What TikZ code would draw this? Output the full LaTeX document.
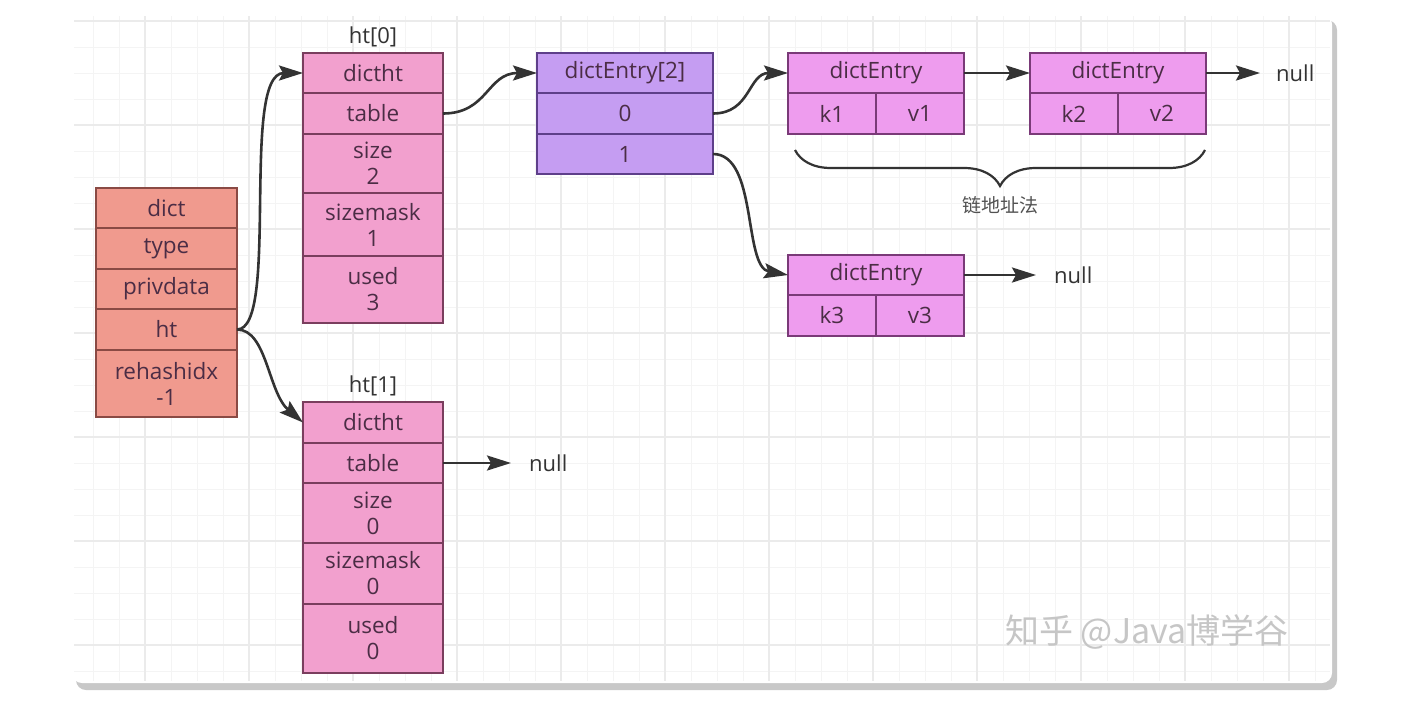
\documentclass[tikz,border=0pt]{standalone}
\usepackage{fontspec}
\setmainfont{Open Sans}
\newfontfamily\cjkfont{Noto Sans CJK SC}
\usetikzlibrary{arrows.meta,positioning,decorations.pathreplacing}
\definecolor{ink}{HTML}{333333}
\definecolor{celltext}{HTML}{4B2D45}
\definecolor{dictfill}{HTML}{F09A8E}
\definecolor{dictline}{HTML}{8A4A44}
\definecolor{htfill}{HTML}{F2A0CE}
\definecolor{htline}{HTML}{7A3E5E}
\definecolor{bucketfill}{HTML}{C59DF2}
\definecolor{bucketline}{HTML}{5E3F8A}
\definecolor{entryfill}{HTML}{EE9CEE}
\definecolor{entryline}{HTML}{7A3A78}
\definecolor{gridminor}{HTML}{F4F4F4}
\definecolor{gridmajor}{HTML}{EBEBEB}
\definecolor{shadowgray}{HTML}{C8C8C8}
\tikzset{
  cell/.style={draw, line width=1.6pt, inner sep=0pt, outer sep=0pt, align=center, text=celltext, font=\fontsize{22.5}{26}\selectfont},
  dictcell/.style={cell, fill=dictfill, draw=dictline, minimum width=141pt},
  htcell/.style={cell, fill=htfill, draw=htline, minimum width=140pt},
  bucketcell/.style={cell, fill=bucketfill, draw=bucketline, minimum width=176pt},
  entrycell/.style={cell, fill=entryfill, draw=entryline, minimum width=176pt},
  halfcell/.style={entrycell, minimum width=88pt, minimum height=41pt},
  caption/.style={font=\fontsize{22}{26}\selectfont, text=ink, inner sep=0pt},
  nulltext/.style={font=\fontsize{22}{26}\selectfont, text=ink, inner sep=0pt},
  arrow/.style={-{Stealth[length=24pt,width=15pt,inset=4pt]}, line width=2.6pt, draw=ink},
  brace line/.style={draw=ink, line width=2.2pt},
  gridline/.style={draw=gridminor, line width=1pt},
  gridbold/.style={draw=gridmajor, line width=1.3pt}
}
\begin{document}
\begin{tikzpicture}[x=1pt,y=-1pt]
\useasboundingbox (0,0) rectangle (1402,724);
% panel
\fill[shadowgray, rounded corners=10pt] (76,20) rectangle (1337,690);
\fill[white, rounded corners=10pt] (72,14) rectangle (1332,683);
\foreach \gx in {93,119,...,1315} \draw[gridline] (\gx,16) -- (\gx,681);
\foreach \gy in {21,47,...,671} \draw[gridline] (74,\gy) -- (1330,\gy);
\foreach \gx in {145,249,...,1289} \draw[gridbold] (\gx,16) -- (\gx,681);
\foreach \gy in {21,125,...,645} \draw[gridbold] (74,\gy) -- (1330,\gy);

% dict
\node[dictcell, minimum height=40pt, anchor=north west] (dname) at (96,188) {dict};
\node[dictcell, minimum height=41pt, below=0pt of dname] (dtype) {type};
\node[dictcell, minimum height=40pt, below=0pt of dtype] (dpriv) {privdata};
\node[dictcell, minimum height=41pt, below=0pt of dpriv] (dht) {ht};
\node[dictcell, minimum height=67pt, below=0pt of dht] (drehash) {rehashidx\\-1};

% ht[0]
\node[htcell, minimum height=40pt, anchor=north west] (h0a) at (303,53) {dictht};
\node[htcell, minimum height=41pt, below=0pt of h0a] (h0t) {table};
\node[htcell, minimum height=59pt, below=0pt of h0t] (h0s) {size\\2};
\node[htcell, minimum height=63pt, below=0pt of h0s] (h0m) {sizemask\\1};
\node[htcell, minimum height=67pt, below=0pt of h0m] (h0u) {used\\3};
\node[caption, above=6pt of h0a] (h0lbl) {ht[0]};

% ht[1]
\node[htcell, minimum height=41pt, anchor=north west] (h1a) at (303,402) {dictht};
\node[htcell, minimum height=40pt, below=0pt of h1a] (h1t) {table};
\node[htcell, minimum height=60pt, below=0pt of h1t] (h1s) {size\\0};
\node[htcell, minimum height=61pt, below=0pt of h1s] (h1m) {sizemask\\0};
\node[htcell, minimum height=69pt, below=0pt of h1m] (h1u) {used\\0};
\node[caption, above=6pt of h1a] (h1lbl) {ht[1]};
\node[nulltext, anchor=west] (nullA) at (529,463) {null};

% buckets
\node[bucketcell, minimum height=40pt, anchor=north west] (bk) at (537,53) {dictEntry[2]};
\node[bucketcell, minimum height=41pt, below=0pt of bk] (b0) {0};
\node[bucketcell, minimum height=40pt, below=0pt of b0] (b1) {1};

% entries
\node[entrycell, minimum height=40pt, anchor=north west] (e1) at (788,53) {dictEntry};
\node[halfcell, below right=0pt and 0pt of e1.south west] (e1k) {k1};
\node[halfcell, right=0pt of e1k] (e1v) {v1};
\node[entrycell, minimum height=40pt, anchor=north west] (e2) at (1030,53) {dictEntry};
\node[halfcell, below right=0pt and 0pt of e2.south west] (e2k) {k2};
\node[halfcell, right=0pt of e2k] (e2v) {v2};
\node[nulltext, anchor=west] (nullB) at (1276,73) {null};
\node[entrycell, minimum height=40pt, anchor=north west] (e3) at (788,255) {dictEntry};
\node[halfcell, below right=0pt and 0pt of e3.south west] (e3k) {k3};
\node[halfcell, right=0pt of e3k] (e3v) {v3};
\node[nulltext, anchor=west] (nullC) at (1054,275) {null};

% links
\draw[arrow] (dht.east) .. controls +(43,0) and +(-63,0) .. (h0a.west);
\draw[arrow] (dht.east) .. controls +(30,0) and +(-35,-30) .. (h1a.west);
\draw[arrow] (h0t.east) .. controls +(45,0) and +(-50,0) .. (bk.west);
\draw[arrow, shorten >=18pt] (h1t.east) -- (nullA.west);
\draw[arrow] (b0.east) .. controls +(38,0) and +(-40,0) .. (e1.west);
\draw[arrow] (b1.east) .. controls +(45,0) and +(-45,-8) .. (e3.west);
\draw[arrow] (e1.east) -- (e2.west);
\draw[arrow, shorten >=16pt] (e2.east) -- (nullB.west);
\draw[arrow, shorten >=18pt] (e3.east) -- (nullC.west);

% chaining brace
\draw[brace line, decorate, decoration={brace, mirror, amplitude=36pt}] (795,150) -- (1205,150);
\node[caption, text=ink!85] (chain) at (1000,205) {\cjkfont\fontsize{19}{22}\selectfont 链地址法};

\node[text=gray!45, inner sep=0pt] (wm) at (1147,632) {\cjkfont\fontsize{34}{40}\selectfont 知乎 @Java博学谷};
\end{tikzpicture}
\end{document}
